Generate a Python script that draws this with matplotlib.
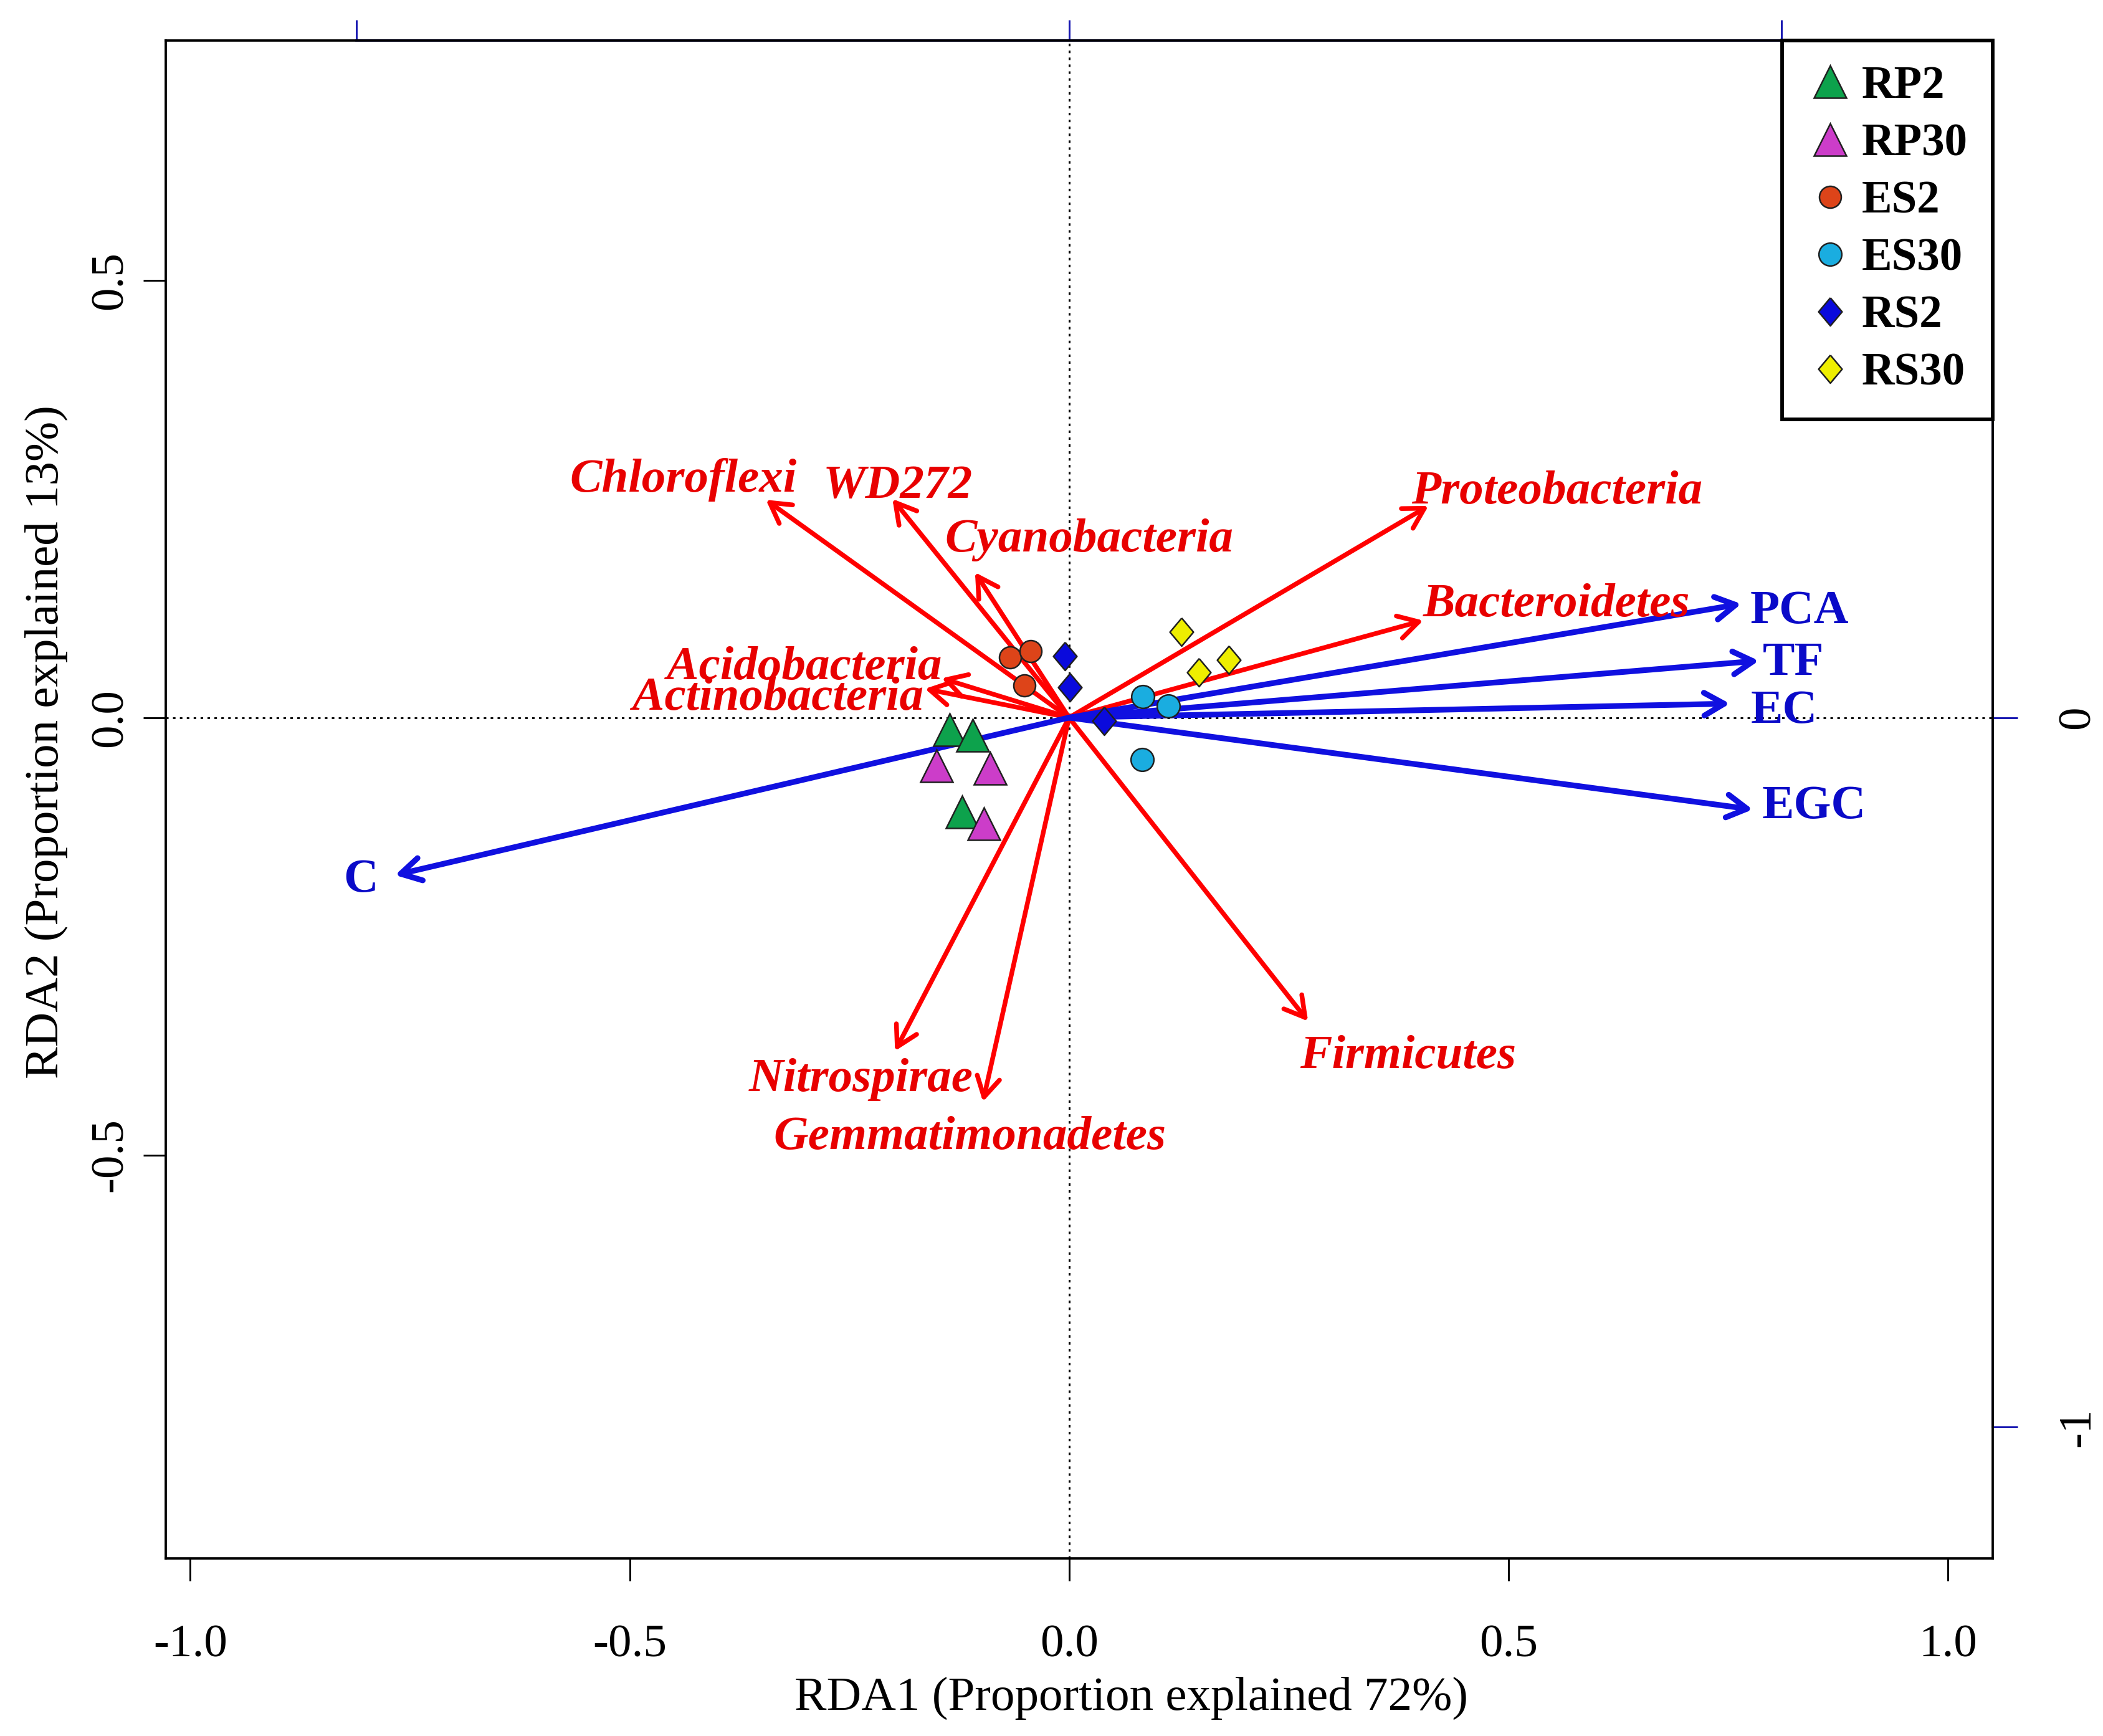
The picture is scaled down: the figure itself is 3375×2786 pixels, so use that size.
import matplotlib
matplotlib.use('Agg')
import matplotlib.pyplot as plt

plt.rcParams['font.family'] = ['Liberation Serif', 'DejaVu Serif']
plt.rcParams['axes.unicode_minus'] = False

# environmental vectors (blue)
env_names = ['PCA', 'TF', 'EC', 'EGC', 'C']
env_x = [0.765, 0.785, 0.752, 0.778, -0.767]
env_y = [0.130, 0.065, 0.016, -0.105, -0.180]

# phyla vectors (red)
phyla = ['Chloroflexi', 'WD272', 'Cyanobacteria', 'Proteobacteria', 'Bacteroidetes',
         'Acidobacteria', 'Actinobacteria', 'Nitrospirae', 'Gemmatimonadetes', 'Firmicutes']
phy_x = [-0.345, -0.201, -0.107, 0.409, 0.403, -0.145, -0.164, -0.198, -0.098, 0.272]
phy_y = [0.249, 0.250, 0.166, 0.242, 0.111, 0.045, 0.033, -0.381, -0.439, -0.347]

# sample scores
groups = ['RP2', 'RP30', 'ES2', 'ES30', 'RS2', 'RS30']
rp2_x, rp2_y = [-0.136, -0.110, -0.122], [-0.014, -0.020, -0.108]
rp30_x, rp30_y = [-0.151, -0.090, -0.097], [-0.055, -0.058, -0.121]
es2_x, es2_y = [-0.067, -0.044, -0.051], [0.069, 0.076, 0.037]
es30_x, es30_y = [0.084, 0.113, 0.083], [0.024, 0.013, -0.048]
rs2_x, rs2_y = [-0.005, 0.001, 0.040], [0.070, 0.035, -0.004]
rs30_x, rs30_y = [0.128, 0.148, 0.182], [0.098, 0.052, 0.066]

# label placement (layout only)
phy_lab = {'Chloroflexi': (-0.439, 0.272), 'WD272': (-0.195, 0.264),
           'Cyanobacteria': (0.023, 0.203), 'Proteobacteria': (0.555, 0.258),
           'Bacteroidetes': (0.555, 0.129), 'Acidobacteria': (-0.301, 0.057),
           'Actinobacteria': (-0.331, 0.022), 'Nitrospirae': (-0.237, -0.414),
           'Gemmatimonadetes': (-0.113, -0.480), 'Firmicutes': (0.386, -0.387)}
env_lab = {'PCA': (0.831, 0.121), 'TF': (0.824, 0.062), 'EC': (0.814, 0.007),
           'EGC': (0.848, -0.102), 'C': (-0.806, -0.186)}

k = 1.233  # scaling of the top/right axes
blue_ax = '#1515B0'

fig = plt.figure(figsize=(11.25, 9.2867), dpi=300)
ax = fig.add_axes([0.0788, 0.1023, 0.8687, 0.8744])
ax.set_xlim(-1.028, 1.051)
ax.set_ylim(-0.961, 0.774)

ax.axhline(0, color='black', lw=0.7, ls=(0, (1.4, 2.4)), zorder=1)
ax.axvline(0, color='black', lw=0.7, ls=(0, (1.4, 2.4)), zorder=1)

head = '->,head_length=0.77,head_width=0.44'
for n, x, y in zip(phyla, phy_x, phy_y):
    ax.annotate('', xy=(x, y), xytext=(0, 0),
                arrowprops=dict(arrowstyle=head, color='#FF0000', lw=1.8,
                                shrinkA=0, shrinkB=0, mutation_scale=10), zorder=2)
    lx, ly = phy_lab[n]
    ax.text(lx, ly, n, color='#E80000', fontsize=18.5, fontweight='bold',
            fontstyle='italic', ha='center', va='center', zorder=3)

for n, x, y in zip(env_names, env_x, env_y):
    ax.annotate('', xy=(x, y), xytext=(0, 0),
                arrowprops=dict(arrowstyle=head, color='#1010E0', lw=2.2,
                                shrinkA=0, shrinkB=0, mutation_scale=10), zorder=2)
    lx, ly = env_lab[n]
    ax.text(lx, ly, n, color='#0A0AC8', fontsize=18.5, fontweight='bold',
            ha='center', va='center', zorder=3)

diamond = [(0, 1), (0.84, 0), (0, -1), (-0.84, 0), (0, 1)]
pts = [
    (rp2_x, rp2_y, '^', 12.5, '#0DA24C'),
    (rp30_x, rp30_y, '^', 12.5, '#CC3DC9'),
    (es2_x, es2_y, 'o', 8.4, '#DD4419'),
    (es30_x, es30_y, 'o', 8.8, '#1AADE0'),
    (rs2_x, rs2_y, diamond, 10.8, '#0A0ADC'),
    (rs30_x, rs30_y, diamond, 10.8, '#EEEE00'),
]
for g, (x, y, m, s, c) in zip(groups, pts):
    ax.plot(x, y, ls='none', marker=m, ms=s, mfc=c, mec='#202020', mew=0.6,
            label=g, zorder=4)

leg = ax.legend(loc='upper right', bbox_to_anchor=(1, 1), borderaxespad=0,
                fancybox=False, edgecolor='black', framealpha=1, numpoints=1,
                prop=dict(family='Liberation Serif', weight='bold', size=17.5),
                handlelength=1.0, handletextpad=0.2, labelspacing=0.33,
                borderpad=0.55)
leg.get_frame().set_linewidth(1.4)
leg.set_zorder(10)

ax.set_xticks([-1, -0.5, 0, 0.5, 1])
ax.set_xticklabels(['-1.0', '-0.5', '0.0', '0.5', '1.0'])
ax.set_yticks([-0.5, 0, 0.5])
ax.set_yticklabels(['-0.5', '0.0', '0.5'], rotation=90, va='center')
ax.tick_params(direction='out', length=8.7, width=0.7, labelsize=18)
ax.tick_params(axis='x', pad=16.8)
ax.tick_params(axis='y', pad=4.3)
for s in ax.spines.values():
    s.set_linewidth(0.9)

ax.set_xlabel('RDA1 (Proportion explained 72%)', fontsize=18.5)
ax.xaxis.set_label_coords(0.5285, -0.0998)
ax.xaxis.label.set_va('baseline')
ax.set_ylabel('RDA2 (Proportion explained 13%)', fontsize=18.5)
ax.yaxis.set_label_coords(-0.059, 0.538)
ax.yaxis.label.set(rotation_mode='anchor', va='baseline', ha='center')

sx = ax.secondary_xaxis('top', functions=(lambda v: v * k, lambda v: v / k))
sx.set_xticks([-1, 0, 1])
sx.tick_params(direction='out', length=8, width=0.7, color=blue_ax, labeltop=False)
sx.spines['top'].set_bounds(-1, 1)
sx.spines['top'].set_color(blue_ax)
sx.spines['top'].set_linewidth(0.9)

sy = ax.secondary_yaxis('right', functions=(lambda v: v * k, lambda v: v / k))
sy.set_yticks([-1, 0])
sy.set_yticklabels(['-1', '0'], rotation=90, va='center')
sy.tick_params(direction='out', length=9.5, width=0.7, color=blue_ax,
               labelsize=18, pad=15.4)
sy.spines['right'].set_bounds(-1, 0.774 * k)
sy.spines['right'].set_color(blue_ax)
sy.spines['right'].set_linewidth(0.9)

fig.savefig('out.png', dpi=300, facecolor='white')
